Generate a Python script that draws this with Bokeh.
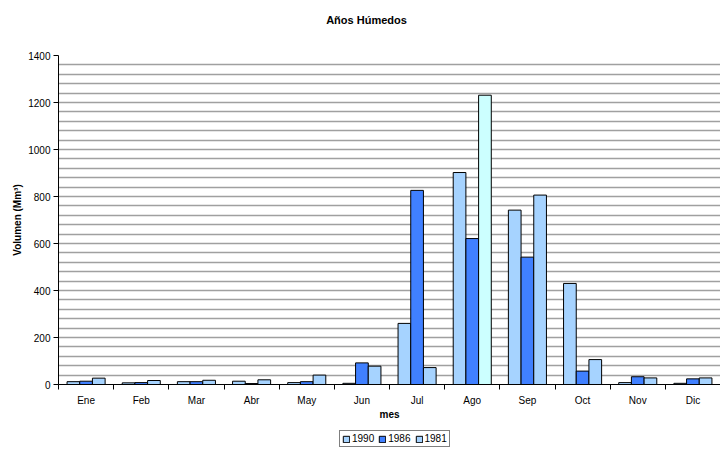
import numpy as np
from bokeh.plotting import figure
from bokeh.layouts import column
from bokeh.models import ColumnDataSource, FixedTicker, Legend, LegendItem, Range1d, Label
from bokeh.embed import file_html
from bokeh.resources import INLINE

meses = ["Ene", "Feb", "Mar", "Abr", "May", "Jun", "Jul", "Ago", "Sep", "Oct", "Nov", "Dic"]
series = ["1990", "1986", "1981"]
v1990 = [12, 7, 12, 14, 8, 5, 260, 902, 742, 430, 8, 5]
v1986 = [14, 8, 12, 4, 12, 92, 826, 621, 542, 57, 33, 24]
v1981 = [27, 17, 18, 20, 40, 78, 72, 1231, 806, 106, 28, 28]
titulo = "Años Húmedos"

c1990 = "#a6d3ff"
c1986 = "#4080ff"
c1981 = ["#a6d3ff"] * 12
c1981[meses.index("Ago")] = "#ccffff"

FONT = "Liberation Sans"

# ---- title strip ----
p0 = figure(width=720, height=38, output_backend="svg", toolbar_location=None,
            x_axis_location=None, y_axis_location=None,
            x_range=Range1d(0, 1), y_range=Range1d(0, 1),
            min_border=0)
p0.outline_line_color = None
p0.grid.visible = False
p0.add_layout(Label(x=308, y=19, x_units="screen", y_units="screen", text=titulo,
                    text_font=FONT, text_font_size="11px", text_font_style="bold",
                    text_color="black", text_align="center", text_baseline="middle"))

# ---- main chart ----
p = figure(frame_width=662, frame_height=329, output_backend="svg", toolbar_location=None,
           x_range=Range1d(0, 12), y_range=Range1d(0, 1400),
           min_border_left=58, min_border_right=0, min_border_top=17, min_border_bottom=40)
p.outline_line_color = None
p.background_fill_color = "white"

centers = np.arange(len(meses)) + 0.5
w = 0.23
offsets = [-w, 0, w]
colors = [[c1990] * 12, [c1986] * 12, c1981]
vals = [v1990, v1986, v1981]
sources = []
for s, off, col, v in zip(series, offsets, colors, vals):
    src = ColumnDataSource(dict(x=centers + off, top=v, color=col))
    sources.append(src)
    p.vbar(x="x", top="top", bottom=0, width=w, source=src,
           fill_color="color", line_color="black", line_width=1)

p.xgrid.visible = False
p.ygrid.ticker = FixedTicker(ticks=list(range(0, 1401, 40)))
p.ygrid.grid_line_color = "#a0a0a0"
p.ygrid.grid_line_width = 1.5

p.yaxis.ticker = FixedTicker(ticks=list(range(0, 1401, 200)), minor_ticks=[])
p.yaxis.axis_label = "Volumen (Mm³)"
p.yaxis.axis_label_text_font = FONT
p.yaxis.axis_label_text_font_size = "10px"
p.yaxis.axis_label_text_font_style = "bold"
p.yaxis.axis_label_text_color = "black"
p.yaxis.axis_label_standoff = 2
p.yaxis.major_label_text_font = FONT
p.yaxis.major_label_text_font_size = "10px"
p.yaxis.major_label_text_color = "black"
p.yaxis.major_tick_in = 0
p.yaxis.major_tick_out = 5
p.yaxis.minor_tick_in = 0
p.yaxis.minor_tick_out = 0
p.yaxis.axis_line_color = "black"
p.yaxis.major_tick_line_color = "black"
p.yaxis.major_label_standoff = 3

p.xaxis.ticker = FixedTicker(ticks=list(centers), minor_ticks=list(range(0, 13)))
p.xaxis.major_label_overrides = {float(c): m for c, m in zip(centers, meses)}
p.xaxis.major_tick_in = 0
p.xaxis.major_tick_out = 0
p.xaxis.minor_tick_in = 0
p.xaxis.minor_tick_out = 5
p.xaxis.minor_tick_line_color = "black"
p.xaxis.major_label_standoff = 5
p.xaxis.major_label_text_font = FONT
p.xaxis.major_label_text_font_size = "10px"
p.xaxis.major_label_text_color = "black"
p.xaxis.axis_label = "mes"
p.xaxis.axis_label_text_font = FONT
p.xaxis.axis_label_text_font_size = "10px"
p.xaxis.axis_label_text_font_style = "bold"
p.xaxis.axis_label_text_color = "black"
p.xaxis.axis_label_standoff = 0
p.xaxis.axis_line_color = "black"

# ---- legend strip (same sources, view range shows no bars) ----
p2 = figure(width=720, height=25, output_backend="svg", toolbar_location=None,
            x_axis_location=None, y_axis_location=None,
            x_range=Range1d(-20, -19), y_range=Range1d(0, 1), min_border=0)
p2.outline_line_color = None
p2.grid.visible = False
items = []
for s, src in zip(series, sources):
    r = p2.vbar(x="x", top="top", bottom=0, width=w, source=src,
                fill_color="color", line_color="black", line_width=1)
    items.append(LegendItem(label=s, renderers=[r], index=0))
legend = Legend(items=items, orientation="horizontal", location=(281, 2))
legend.label_text_font = FONT
legend.label_text_font_size = "10px"
legend.label_text_color = "black"
legend.border_line_color = "black"
legend.border_line_width = 1
legend.padding = 2
legend.margin = 0
legend.spacing = 4
legend.glyph_width = 8
legend.glyph_height = 8
legend.label_standoff = 2
legend.label_height = 10
legend.background_fill_alpha = 1
p2.add_layout(legend, "center")

layout = column(p0, p, p2, spacing=0)
open("out.html", "w").write(file_html(layout, INLINE))
